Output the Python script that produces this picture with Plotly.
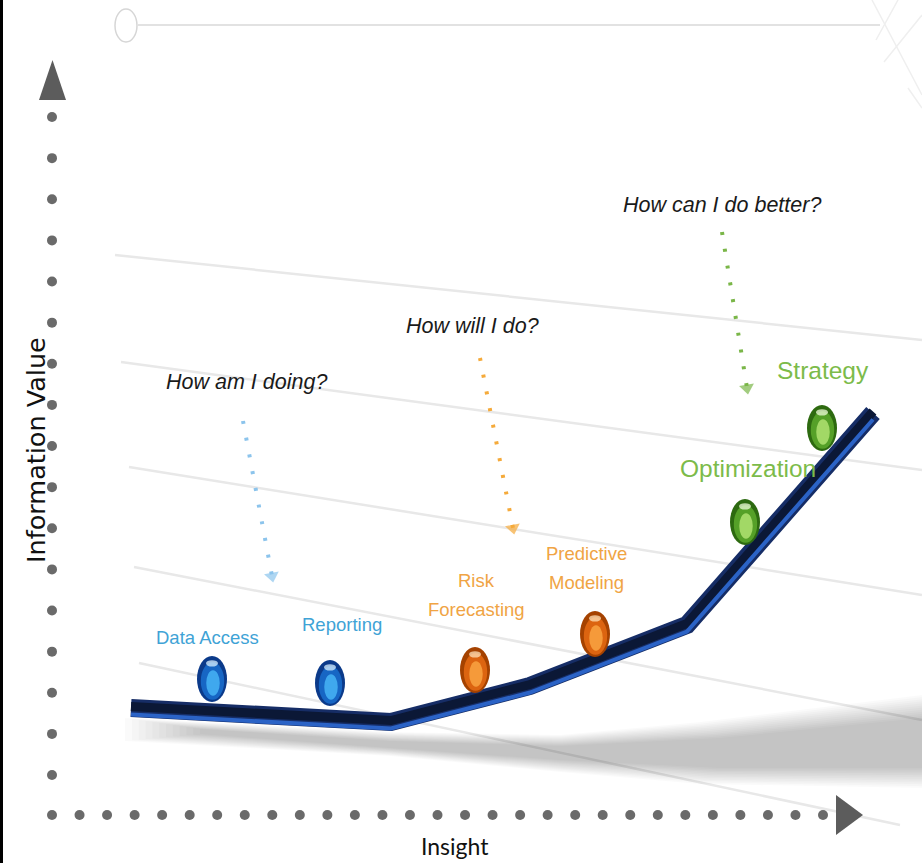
import plotly.graph_objects as go
import numpy as np

# ---------------- data (canvas units, y grows downward) ----
curve_x = [131, 391, 530, 687, 873]
curve_y = [708, 722, 686, 625, 413]

stage_names = ["Data Access", "Reporting", "Risk<br>Forecasting",
               "Predictive<br>Modeling", "Optimization", "Strategy"]
stage_group = ["blue", "blue", "orange", "orange", "green", "green"]
ball_x = [212, 330, 475, 595, 745, 822]
ball_y = [679, 683, 670, 634, 522, 428]
label_x = [207, 342, 476, 586, 748, 823]
label_y = [637, 624, 595, 568, 468, 370]

questions = ["How am I doing?", "How will I do?", "How can I do better?"]
question_group = ["blue", "orange", "green"]
question_x = [246, 472, 722]
question_y = [382, 326, 205]
arrow_x0 = [243, 480, 722]
arrow_y0 = [421, 358, 232]
arrow_x1 = [272, 513, 747]
arrow_y1 = [576, 528, 388]

bg_line_x0 = [115, 121, 129, 134, 139]
bg_line_y0 = [255, 362, 467, 567, 663]
bg_line_x1 = [922, 922, 922, 922, 900]
bg_line_y1 = [340, 470, 595, 720, 825]

x_title = "Insight"
y_title = "Information Value"

# ---------------- styles ----------------
W, H = 922, 863
SANS = "Liberation Sans, Arial, sans-serif"
label_color = {"blue": "#3fa3d6", "orange": "#f0a444", "green": "#7cbb4a"}
arrow_color = {"blue": "#8cc4ec", "orange": "#f5aa3a", "green": "#7ab648"}
label_size = {"blue": 18.5, "orange": 18.5, "green": 24.5}
LINE_GAP = 29
ball_cols = {
    "blue": ["#0b3a8a", "#1766c4", "#3fa8ee", "#d8f0ff"],
    "orange": ["#a54200", "#dc6410", "#f59a3a", "#ffe2b8"],
    "green": ["#2d6a10", "#55a028", "#a2d866", "#eefbd8"],
}
BALL_RX, BALL_RY = 15, 23
AXIS_GREY = "#6a6a6a"

fig = go.Figure()

# background diagonal lines
for x0, y0, x1, y1 in zip(bg_line_x0, bg_line_y0, bg_line_x1, bg_line_y1):
    fig.add_trace(go.Scatter(x=[x0, x1], y=[y0, y1], mode="lines",
                             line=dict(color="#e8e8e8", width=2.5), hoverinfo="skip"))

# top decoration
fig.add_trace(go.Scatter(x=[138, 880], y=[25, 25], mode="lines",
                         line=dict(color="#e2e2e2", width=2), hoverinfo="skip"))
for seg in [([872, 922], [0, 95]), ([898, 876], [0, 40]), ([922, 884], [15, 62]),
            ([908, 922], [88, 108])]:
    fig.add_trace(go.Scatter(x=seg[0], y=seg[1], mode="lines",
                             line=dict(color="#efefef", width=1.5), hoverinfo="skip"))

# soft shadow under the curve: layered polygons blending outer -> inner outline
outer_top = np.array([(125, 718), (390, 732), (560, 735), (700, 722), (922, 695)], float)
outer_bot = np.array([(922, 788), (700, 784), (560, 772), (390, 756), (125, 741)], float)
inner_top = np.array([(200, 729), (390, 741), (560, 746), (720, 738), (922, 718)], float)
inner_bot = np.array([(922, 768), (720, 768), (560, 760), (390, 748), (200, 734)], float)
N_LAYERS = 12
for k in range(N_LAYERS):
    t = k / (N_LAYERS - 1)
    top = outer_top + (inner_top - outer_top) * t
    bot = outer_bot + (inner_bot - outer_bot) * t
    poly = np.vstack([top, bot, top[:1]])
    fig.add_trace(go.Scatter(x=poly[:, 0], y=poly[:, 1], mode="lines", fill="toself",
                             fillcolor="rgba(0,0,0,0.018)", line=dict(width=0),
                             hoverinfo="skip"))

# main curve: dark body plus lighter lower edge
sy = np.array(curve_y, dtype=float)
fig.add_trace(go.Scatter(x=curve_x, y=curve_y, mode="lines",
                         line=dict(color="#162d66", width=18), hoverinfo="skip"))
fig.add_trace(go.Scatter(x=curve_x, y=list(sy - 1.5), mode="lines",
                         line=dict(color="#0b1836", width=9), hoverinfo="skip"))
fig.add_trace(go.Scatter(x=curve_x, y=list(sy + 6.5), mode="lines",
                         line=dict(color="#2b63c6", width=4), hoverinfo="skip"))

# y axis dotted line and arrow
fig.add_trace(go.Scatter(x=[52] * 17, y=list(np.linspace(117, 775, 17)), mode="markers",
                         marker=dict(color=AXIS_GREY, size=10, line=dict(width=0)),
                         hoverinfo="skip"))
fig.add_trace(go.Scatter(x=[39, 66, 52.5, 39], y=[100, 100, 60, 100], mode="lines",
                         fill="toself", fillcolor="#5c5c5c", line=dict(width=0),
                         hoverinfo="skip"))
# x axis dotted line and arrow
fig.add_trace(go.Scatter(x=list(np.linspace(52, 823, 29)), y=[815] * 29, mode="markers",
                         marker=dict(color=AXIS_GREY, size=10, line=dict(width=0)),
                         hoverinfo="skip"))
fig.add_trace(go.Scatter(x=[836, 836, 863, 836], y=[795, 835, 815, 795], mode="lines",
                         fill="toself", fillcolor="#5c5c5c", line=dict(width=0),
                         hoverinfo="skip"))

# dotted question arrows
for g, xa, ya, xb, yb in zip(question_group, arrow_x0, arrow_y0, arrow_x1, arrow_y1):
    c = arrow_color[g]
    fig.add_trace(go.Scatter(x=[xa, xb], y=[ya, yb], mode="lines",
                             line=dict(color=c, width=4, dash="3px,14px"),
                             hoverinfo="skip"))
    fig.add_trace(go.Scatter(x=[xa, xb], y=[ya, yb], mode="markers",
                             marker=dict(symbol="triangle-down", size=[0, 13], color=c,
                                         angleref="previous", angle=180,
                                         line=dict(width=0)),
                             hoverinfo="skip"))

# balls (layered ellipses)
shapes = []
for g, cx, cy in zip(stage_group, ball_x, ball_y):
    c = ball_cols[g]
    layers = [
        (0, 0, 1.0, 1.0, c[0], 1.0),
        (0.5, 2, 0.78, 0.82, c[1], 1.0),
        (1, 4, 0.45, 0.55, c[2], 1.0),
        (0, -0.68 * BALL_RY, 0.4, 0.14, c[3], 0.75),
    ]
    for dx, dy, fx, fy, col, op in layers:
        rx, ry = BALL_RX * fx, BALL_RY * fy
        shapes.append(dict(type="circle", xref="x", yref="y",
                           x0=cx + dx - rx, x1=cx + dx + rx,
                           y0=cy + dy - ry, y1=cy + dy + ry,
                           fillcolor=col, opacity=op, line=dict(width=0), layer="above"))

# decorative circle on the top rule and the black left edge
shapes.append(dict(type="circle", xref="x", yref="y", x0=115, x1=137, y0=9, y1=42,
                   line=dict(color="#d6d6d6", width=1.5), fillcolor="rgba(0,0,0,0)"))
shapes.append(dict(type="rect", xref="paper", yref="paper", x0=0, x1=3 / W, y0=0, y1=1,
                   fillcolor="#000000", line=dict(width=0)))

annotations = []
for name, g, x, y in zip(stage_names, stage_group, label_x, label_y):
    lines = name.split("<br>")
    n = len(lines)
    for i, line in enumerate(lines):
        annotations.append(dict(x=x, y=y + (i - (n - 1) / 2) * LINE_GAP, xref="x", yref="y",
                                text=line, showarrow=False,
                                font=dict(family=SANS, size=label_size[g],
                                          color=label_color[g]),
                                xanchor="center", yanchor="middle"))
for q, x, y in zip(questions, question_x, question_y):
    annotations.append(dict(x=x, y=y, xref="x", yref="y", text=f"<i>{q}</i>",
                            showarrow=False,
                            font=dict(family=SANS, size=21.5, color="#1a1a1a"),
                            xanchor="center", yanchor="middle"))
annotations.append(dict(x=455, y=846, xref="x", yref="y", text=x_title, showarrow=False,
                        font=dict(family="Lato, " + SANS, size=23, color="#111111"),
                        xanchor="center", yanchor="middle"))
annotations.append(dict(x=36, y=450, xref="x", yref="y", text=y_title, showarrow=False,
                        textangle=-90,
                        font=dict(family="DejaVu Sans", size=25.5, color="#111111"),
                        xanchor="center", yanchor="middle"))

fig.update_layout(
    width=W, height=H, margin=dict(l=0, r=0, t=0, b=0),
    paper_bgcolor="white", plot_bgcolor="white", showlegend=False,
    hovermode=False,
    xaxis=dict(range=[0, W], visible=False, fixedrange=True),
    yaxis=dict(range=[H, 0], visible=False, fixedrange=True),
    shapes=shapes, annotations=annotations,
)

fig.write_html("out.html", config={"displayModeBar": False})
